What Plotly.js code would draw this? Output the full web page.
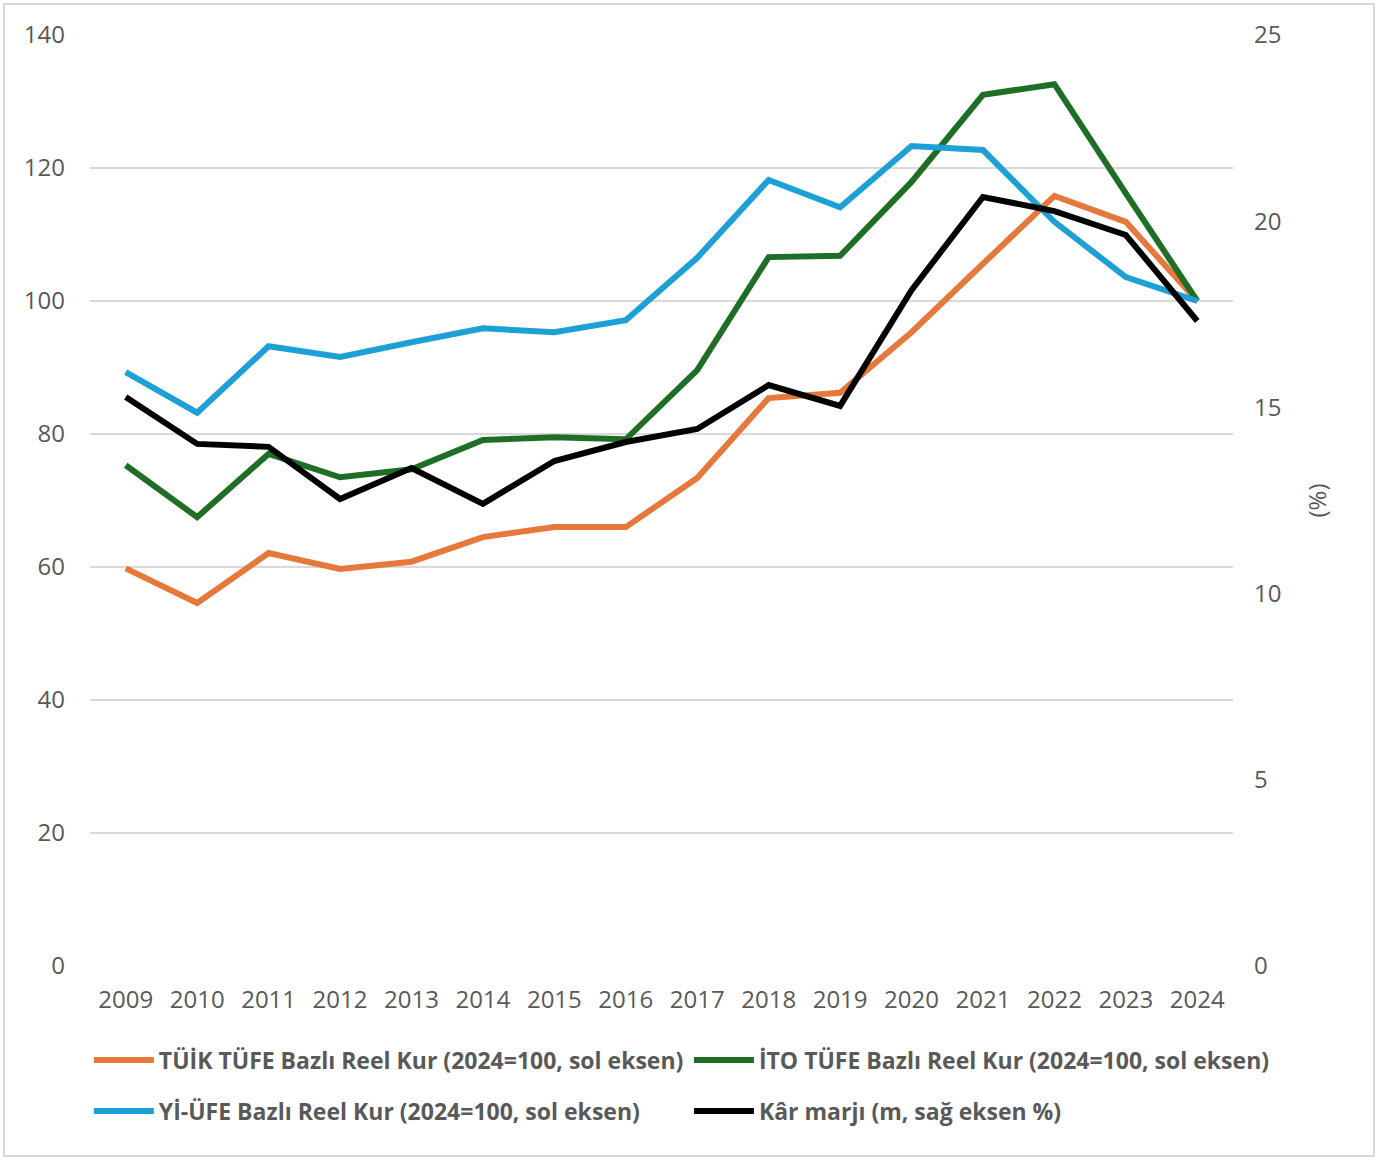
<!DOCTYPE html>
<html>
<head>
<meta charset="utf-8">
<script src="https://cdn.plot.ly/plotly-3.0.1.min.js"></script>
<style>
  html, body { margin: 0; padding: 0; background: #fff; }
  #chart { position: absolute; left: 3px; top: 3px; width: 1368px; height: 1150px; border: 2px solid #d9d9d9; }
</style>
</head>
<body>
<div id="chart"></div>
<script>
// yıllar
var years = ['2009','2010','2011','2012','2013','2014','2015','2016','2017','2018','2019','2020','2021','2022','2023','2024'];

// reel kur endeksleri (2024=100, sol eksen)
var tuikTufe = [59.8, 54.6, 62.1, 59.7, 60.8, 64.5, 66.0, 66.0, 73.4, 85.4, 86.2, 95.3, 105.6, 115.8, 111.9, 100.0];
var itoTufe  = [75.3, 67.5, 77.0, 73.5, 74.7, 79.1, 79.5, 79.2, 89.6, 106.6, 106.8, 117.9, 131.0, 132.6, 116.2, 100.0];
var yiUfe    = [89.3, 83.2, 93.2, 91.6, 93.8, 95.9, 95.3, 97.1, 106.5, 118.2, 114.1, 123.3, 122.7, 111.9, 103.6, 100.0];

// kâr marjı (%, sağ eksen)
var karMarji = [15.28, 14.02, 13.94, 12.54, 13.37, 12.41, 13.56, 14.07, 14.42, 15.6, 15.04, 18.15, 20.65, 20.27, 19.63, 17.32];

var names = [
  'TÜİK TÜFE Bazlı Reel Kur (2024=100, sol eksen)',
  'İTO TÜFE Bazlı Reel Kur (2024=100, sol eksen)',
  'Yİ-ÜFE Bazlı Reel Kur (2024=100, sol eksen)',
  'Kâr marjı (m, sağ eksen %)'
];

var fnt = 'Open Sans, Noto Sans, sans-serif';
var grey = '#595959';

// sol sütun: TÜİK + Yİ-ÜFE, sağ sütun: İTO + kâr marjı
var traces = [
  {x: years, y: tuikTufe, name: names[0], type: 'scatter', mode: 'lines', legend: 'legend', legendgroup: 'a', line: {color: '#E5783A', width: 6}},
  {x: years, y: itoTufe, name: names[1], type: 'scatter', mode: 'lines', legend: 'legend2', legendgroup: 'b', line: {color: '#1F6E25', width: 6}},
  {x: years, y: yiUfe, name: names[2], type: 'scatter', mode: 'lines', legend: 'legend', legendgroup: 'c', line: {color: '#1DA0D6', width: 6}},
  {x: years, y: karMarji, name: names[3], type: 'scatter', mode: 'lines', yaxis: 'y2', legend: 'legend2', legendgroup: 'd', line: {color: '#000000', width: 6}}
];

var legendFont = {family: fnt, size: 23, color: grey, weight: 700};
var tickFont = {family: fnt, size: 24, color: grey};

var layout = {
  width: 1368,
  height: 1150,
  margin: {l: 85, r: 140, t: 30, b: 189},
  paper_bgcolor: '#fff',
  plot_bgcolor: '#fff',
  font: {family: fnt, size: 23, color: grey},
  showlegend: true,
  legend: {
    orientation: 'v',
    x: -0.001, y: -0.078,
    xanchor: 'left', yanchor: 'top',
    tracegroupgap: 18,
    itemwidth: 60,
    bgcolor: 'rgba(0,0,0,0)',
    font: legendFont
  },
  legend2: {
    orientation: 'v',
    x: 0.524, y: -0.078,
    xanchor: 'left', yanchor: 'top',
    tracegroupgap: 18,
    itemwidth: 60,
    bgcolor: 'rgba(0,0,0,0)',
    font: legendFont
  },
  xaxis: {
    type: 'category',
    range: [-0.5, 15.5],
    showgrid: false,
    zeroline: false,
    showline: false,
    ticks: '',
    ticklabelstandoff: 17,
    tickfont: tickFont
  },
  yaxis: {
    range: [0, 140],
    dtick: 20,
    gridcolor: '#d9d9d9',
    gridwidth: 1.5,
    zeroline: false,
    showline: false,
    ticks: '',
    ticklabelstandoff: 24,
    tickfont: tickFont
  },
  yaxis2: {
    overlaying: 'y',
    side: 'right',
    range: [0, 25],
    dtick: 5,
    showgrid: false,
    zeroline: false,
    showline: false,
    ticks: '',
    ticklabelstandoff: 20,
    tickfont: tickFont,
    title: {text: '(%)', standoff: 28, font: {family: fnt, size: 24, color: grey}}
  }
};

Plotly.newPlot('chart', traces, layout, {displayModeBar: false, staticPlot: true});
</script>
</body>
</html>
